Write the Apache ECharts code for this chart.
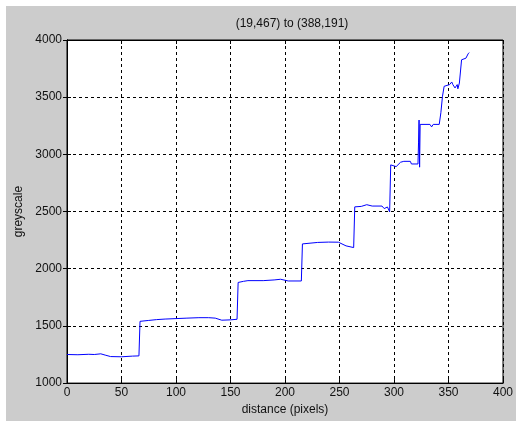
<!DOCTYPE html>
<html><head><meta charset="utf-8">
<script src="https://cdn.jsdelivr.net/npm/echarts@6/dist/echarts.min.js"></script>
<style>html,body{margin:0;padding:0;background:#fff}#c{width:516px;height:421px}</style>
</head><body><div id="c"></div>
<script>
const titleText = "(19,467) to (388,191)";
const xLabel = "distance (pixels)";
const yLabel = "greyscale";
const xTicks = [0,50,100,150,200,250,300,350,400];
const yTicks = [1000,1500,2000,2500,3000,3500,4000];
const profileX = [0,10,20,25,31,35,40,50,60,66,67,75,82,90,100,110,121,130,136,142,150,156,157,162,166,180,190,196,203,215,216,230,240,249,256,263,264,270,275,280,289,291,294,296,297,302,306,309,315,316,322,322.5,323,323.5,324,333,334.5,336,341.5,343,344.5,346,351,353,354,356,358,358.6,360,362,366,368,369];
const profileY = [1250,1248,1252,1250,1256,1245,1232,1230,1236,1238,1540,1548,1555,1560,1564,1568,1572,1572,1568,1550,1553,1558,1880,1890,1896,1896,1902,1908,1893,1893,2217,2230,2233,2232,2200,2185,2541,2545,2560,2548,2548,2526,2540,2497,2908,2893,2931,2939,2939,2916,2916,3100,3300,2888,3262,3262,3240,3262,3262,3364,3508,3595,3610,3633,3610,3581,3610,3573,3624,3827,3841,3879,3890];

const data = profileX.map((x,i)=>[x, profileY[i]]);
const chart = echarts.init(document.getElementById('c'));
const font = 'Liberation Sans, Arial, sans-serif';
const gridLine = {show:true, lineStyle:{color:'#000', type:[3,3], width:1}};
const plain = v => String(v);
chart.setOption({
  animation:false,
  backgroundColor:'#fff',
  graphic:[{type:'rect', left:6, top:6, shape:{width:510, height:415}, style:{fill:'#cccccc'}, z:-10, silent:true}],
  title:{text:titleText, left:287, textAlign:'center', top:13, textStyle:{fontSize:12, fontWeight:'normal', color:'#111', fontFamily:font}},
  grid:{left:67, right:9, top:40, bottom:35, show:true, backgroundColor:'#fff', borderColor:'#000', borderWidth:1},
  xAxis:[{type:'value', min:xTicks[0], max:xTicks[xTicks.length-1], interval:xTicks[1]-xTicks[0],
    axisLine:{show:true, lineStyle:{color:'#000'}}, axisTick:{show:true, inside:true, length:4, lineStyle:{color:'#000'}},
    axisLabel:{color:'#111', fontSize:12, fontFamily:font, margin:4, formatter:plain},
    splitLine:gridLine,
    name:xLabel, nameLocation:'middle', nameGap:20, nameTextStyle:{color:'#111', fontSize:12, fontFamily:font}},
    {type:'value', position:'top', min:xTicks[0], max:xTicks[xTicks.length-1], interval:xTicks[1]-xTicks[0], axisLine:{show:true, lineStyle:{color:'#000'}}, axisTick:{show:true, inside:true, length:4, lineStyle:{color:'#000'}}, axisLabel:{show:false}, splitLine:{show:false}}],
  yAxis:[{type:'value', min:yTicks[0], max:yTicks[yTicks.length-1], interval:yTicks[1]-yTicks[0],
    axisLine:{show:true, lineStyle:{color:'#000'}}, axisTick:{show:true, inside:true, length:4, lineStyle:{color:'#000'}},
    axisLabel:{color:'#111', fontSize:12, fontFamily:font, margin:5, formatter:plain},
    splitLine:gridLine,
    name:yLabel, nameLocation:'middle', nameGap:40, nameRotate:90, nameTextStyle:{color:'#111', fontSize:12, fontFamily:font}},
    {type:'value', position:'right', min:yTicks[0], max:yTicks[yTicks.length-1], interval:yTicks[1]-yTicks[0], axisLine:{show:true, lineStyle:{color:'#000'}}, axisTick:{show:true, inside:true, length:4, lineStyle:{color:'#000'}}, axisLabel:{show:false}, splitLine:{show:false}}],
  series:[{type:'line', data:data, showSymbol:false, symbol:'none', lineStyle:{color:'#0000ff', width:1}, itemStyle:{color:'#0000ff'}}]
});
</script></body></html>
